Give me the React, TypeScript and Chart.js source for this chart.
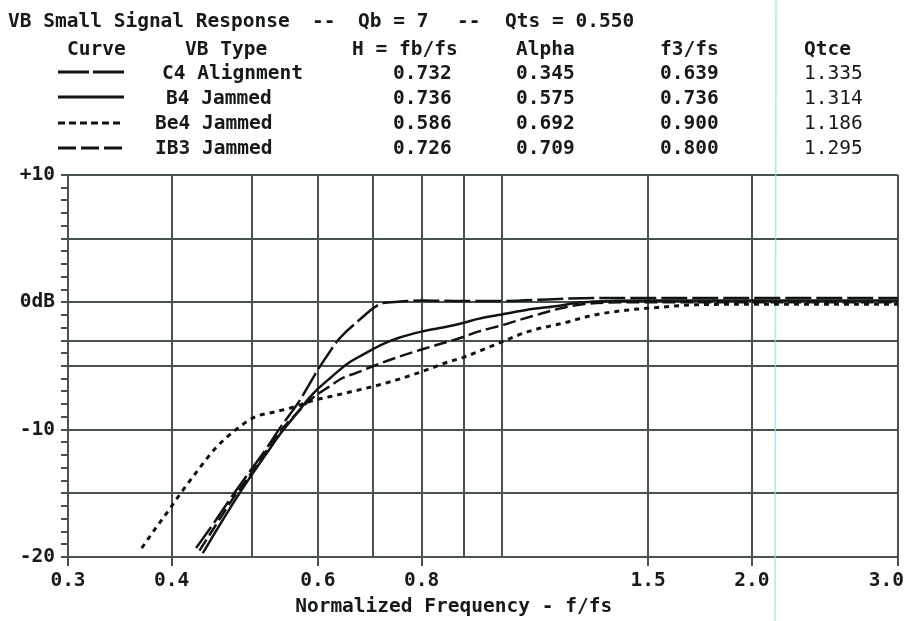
import React, { useEffect, useRef } from 'react';
import { Chart, registerables } from 'chart.js';

Chart.register(...registerables);

// ---------- data ----------
const FREQ_GRID = [0.3, 0.4, 0.5, 0.6, 0.7, 0.8, 0.9, 1.0, 1.5, 2.0, 3.0];
const FREQ_LABEL_VALUES = [0.3, 0.4, 0.6, 0.8, 1.5, 2.0, 3.0];
const FREQ_LABEL_TEXT = ['0.3', '0.4', '0.6', '0.8', '1.5', '2.0', '3.0  '];
const DB_GRID = [10, 5, 0, -3, -5, -10, -15, -20];
const DB_LABEL_VALUES = [10, 0, -10, -20];
const DB_LABEL_TEXT = ['+10', '0dB', '-10', '-20'];

const C4_F = [0.428, 0.45, 0.472, 0.494, 0.52, 0.541, 0.568, 0.584, 0.6, 0.617, 0.634, 0.649, 0.67, 0.685, 0.7, 0.715, 0.735, 0.77, 0.8, 0.9, 1.0, 1.2, 1.5, 2.0, 2.5, 3.0];
const C4_DB = [-19.3, -17.3, -15.3, -13.5, -11.5, -9.8, -7.9, -6.6, -5.3, -4.1, -3.0, -2.3, -1.5, -0.95, -0.45, -0.1, 0.0, 0.1, 0.15, 0.1, 0.1, 0.3, 0.35, 0.35, 0.35, 0.35];

const B4_F = [0.436, 0.45, 0.472, 0.494, 0.52, 0.541, 0.568, 0.584, 0.6, 0.622, 0.652, 0.68, 0.7, 0.723, 0.75, 0.8, 0.86, 0.9, 0.936, 0.989, 1.07, 1.16, 1.25, 1.5, 2.0, 2.5, 3.0];
const B4_DB = [-19.7, -18.2, -16.0, -14.0, -11.9, -10.3, -8.6, -7.6, -6.8, -5.9, -4.8, -4.1, -3.65, -3.2, -2.8, -2.3, -1.9, -1.6, -1.3, -1.0, -0.6, -0.3, 0.0, 0.15, 0.15, 0.15, 0.15];

const BE4_F = [0.368, 0.383, 0.398, 0.409, 0.43, 0.451, 0.478, 0.504, 0.533, 0.563, 0.589, 0.622, 0.66, 0.7, 0.75, 0.8, 0.86, 0.9, 0.95, 1.0, 1.075, 1.19, 1.29, 1.42, 1.54, 1.7, 2.0, 2.5, 3.0];
const BE4_DB = [-19.3, -17.7, -16.2, -15.1, -13.2, -11.5, -10.0, -9.0, -8.6, -8.2, -7.75, -7.4, -7.0, -6.6, -6.05, -5.45, -4.7, -4.3, -3.7, -3.1, -2.3, -1.6, -1.0, -0.6, -0.4, -0.2, -0.15, -0.15, -0.15];

const IB3_F = [0.432, 0.45, 0.472, 0.494, 0.52, 0.541, 0.568, 0.584, 0.6, 0.62, 0.64, 0.67, 0.7, 0.749, 0.8, 0.86, 0.9, 0.936, 1.0, 1.06, 1.127, 1.17, 1.25, 1.4, 2.0, 2.5, 3.0];
const IB3_DB = [-19.5, -17.7, -15.6, -13.8, -11.7, -10.1, -8.6, -7.8, -7.2, -6.6, -6.0, -5.5, -5.0, -4.3, -3.7, -3.1, -2.7, -2.3, -1.8, -1.3, -0.8, -0.5, -0.15, 0.0, 0.0, 0.0, 0.0];

const TITLE_TEXT = ['VB Small Signal Response', '--', 'Qb = 7', '--', 'Qts = 0.550'];
const HEADERS = ['Curve', 'VB Type', 'H = fb/fs', 'Alpha', 'f3/fs', 'Qtce'];
const CURVE_NAMES = ['C4 Alignment', 'B4 Jammed', 'Be4 Jammed', 'IB3 Jammed'];
const H_VALUES = ['0.732', '0.736', '0.586', '0.726'];
const ALPHA_VALUES = ['0.345', '0.575', '0.692', '0.709'];
const F3_VALUES = ['0.639', '0.736', '0.900', '0.800'];
const QTCE_VALUES = ['1.335', '1.314', '1.186', '1.295'];

// ---------- styles ----------
const FONT = '"DejaVu Sans Mono", "Liberation Mono", monospace';
const FSIZE = 19.5;
const TEXT = '#161b17';
const GRID = '#46524a';
const INK = '#111411';

const SERIES = [
  { label: 'C4 Alignment', f: C4_F, db: C4_DB, dash: [26, 5], width: 2.5, legendDash: [31, 4] },
  { label: 'B4 Jammed', f: B4_F, db: B4_DB, dash: [], width: 2.5, legendDash: [] },
  { label: 'Be4 Jammed', f: BE4_F, db: BE4_DB, dash: [5, 5], width: 3, legendDash: [7, 4] },
  { label: 'IB3 Jammed', f: IB3_F, db: IB3_DB, dash: [13, 5], width: 2.5, legendDash: [18, 5] },
];

const headerPlugin = {
  id: 'header',
  afterDraw(chart: any) {
    const ctx = chart.ctx as CanvasRenderingContext2D;
    ctx.save();
    ctx.fillStyle = TEXT;
    ctx.textBaseline = 'alphabetic';
    ctx.textAlign = 'left';
    const bold = `bold ${FSIZE}px ${FONT}`;
    const normal = `${FSIZE}px ${FONT}`;
    ctx.font = bold;
    const titleX = [8, 312, 358, 457, 505];
    TITLE_TEXT.forEach((t, i) => ctx.fillText(t, titleX[i], 27));
    const headX = [67, 185, 352, 516, 660, 804];
    HEADERS.forEach((t, i) => ctx.fillText(t, headX[i], 55));
    const rowBase = [79, 104, 129, 154];
    const lineY = [72, 97, 123, 148];
    const nameX = [162, 166, 155, 155];
    CURVE_NAMES.forEach((name, i) => {
      ctx.font = bold;
      ctx.fillText(name, nameX[i], rowBase[i]);
      ctx.fillText(H_VALUES[i], 393, rowBase[i]);
      ctx.fillText(ALPHA_VALUES[i], 516, rowBase[i]);
      ctx.fillText(F3_VALUES[i], 660, rowBase[i]);
      ctx.font = normal;
      ctx.fillText(QTCE_VALUES[i], 804, rowBase[i]);
      // legend sample
      ctx.save();
      ctx.strokeStyle = INK;
      ctx.lineWidth = 3;
      ctx.setLineDash(SERIES[i].legendDash);
      ctx.beginPath();
      ctx.moveTo(58, lineY[i]);
      ctx.lineTo(124, lineY[i]);
      ctx.stroke();
      ctx.restore();
    });
    ctx.restore();
  },
};

const scanLinePlugin = {
  id: 'scanLine',
  beforeDatasetsDraw(chart: any) {
    const ctx = chart.ctx as CanvasRenderingContext2D;
    ctx.save();
    ctx.strokeStyle = 'rgba(150,222,228,0.75)';
    ctx.lineWidth = 1.5;
    ctx.beginPath();
    ctx.moveTo(776, 0);
    ctx.lineTo(775, chart.height);
    ctx.stroke();
    ctx.restore();
  },
};

export default function App() {
  const ref = useRef<HTMLCanvasElement | null>(null);

  useEffect(() => {
    document.body.style.margin = '0';
    document.body.style.background = '#ffffff';
    if (!ref.current) return;
    const chart = new Chart(ref.current, {
      type: 'line',
      data: {
        datasets: SERIES.map((s) => ({
          label: s.label,
          data: s.f.map((f, i) => ({ x: f, y: s.db[i] })),
          borderColor: INK,
          borderWidth: s.width,
          borderDash: s.dash,
          pointRadius: 0,
          fill: false,
          cubicInterpolationMode: 'monotone' as const,
        })),
      },
      options: {
        animation: false,
        responsive: false,
        maintainAspectRatio: false,
        layout: { padding: { top: 175, right: 7, bottom: 0, left: 0 } },
        plugins: {
          legend: { display: false },
          tooltip: { enabled: false },
          title: { display: false },
        },
        scales: {
          x: {
            type: 'logarithmic',
            min: 0.3,
            max: 3.0,
            afterBuildTicks: (s: any) => {
              s.ticks = FREQ_GRID.map((v) => ({ value: v }));
            },
            afterFit: (s: any) => {
              s.height = 64;
              s.paddingLeft = 0;
              s.paddingRight = 0;
            },
            ticks: {
              autoSkip: false,
              maxRotation: 0,
              minRotation: 0,
              padding: 3,
              color: TEXT,
              font: { family: FONT, size: FSIZE, weight: 'bold' },
              callback: (v: any) => {
                const i = FREQ_LABEL_VALUES.indexOf(Number(v));
                return i >= 0 ? FREQ_LABEL_TEXT[i] : '';
              },
            },
            grid: {
              color: GRID,
              lineWidth: 2,
              drawTicks: true,
              tickLength: 9,
              tickWidth: 2,
              tickColor: (ctx: any) =>
                ctx.tick && FREQ_LABEL_VALUES.includes(ctx.tick.value) ? GRID : 'rgba(0,0,0,0)',
            },
            border: { display: true, color: GRID, width: 2 },
            title: {
              display: true,
              text: 'Normalized Frequency - f/fs     ',
              color: TEXT,
              font: { family: FONT, size: FSIZE, weight: 'bold' },
              padding: { top: 0, bottom: 2 },
            },
          },
          y: {
            type: 'linear',
            min: -20,
            max: 10,
            afterBuildTicks: (s: any) => {
              const t = [];
              for (let v = -20; v <= 10; v++) t.push({ value: v });
              s.ticks = t;
            },
            afterFit: (s: any) => {
              s.width = 68;
              s.paddingTop = 0;
              s.paddingBottom = 0;
            },
            ticks: {
              autoSkip: false,
              padding: 6,
              color: TEXT,
              font: { family: FONT, size: FSIZE, weight: 'bold' },
              callback: (v: any) => {
                const i = DB_LABEL_VALUES.indexOf(Number(v));
                return i >= 0 ? DB_LABEL_TEXT[i] : '';
              },
            },
            grid: {
              color: (ctx: any) =>
                ctx.tick && DB_GRID.includes(ctx.tick.value) ? GRID : 'rgba(0,0,0,0)',
              lineWidth: 2,
              drawTicks: true,
              tickLength: 7,
              tickWidth: 2,
              tickColor: GRID,
            },
            border: { display: true, color: GRID, width: 2 },
          },
        },
      },
      plugins: [scanLinePlugin, headerPlugin],
    } as any);
    return () => chart.destroy();
  }, []);

  return (
    <div style={{ width: 905, height: 621, background: '#fff' }}>
      <canvas ref={ref} width={905} height={621} style={{ width: 905, height: 621, display: 'block' }} />
    </div>
  );
}
